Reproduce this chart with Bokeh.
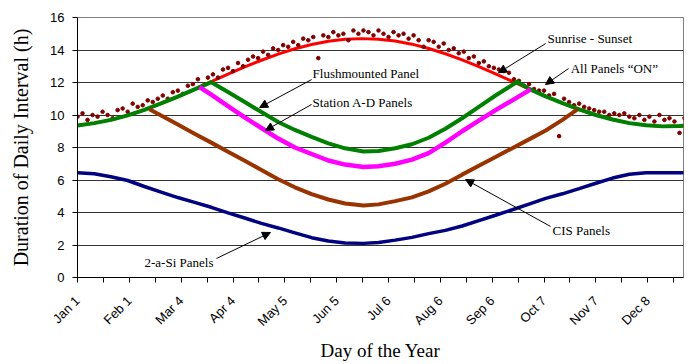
import math
from bokeh.plotting import figure
from bokeh.models import Range1d, FixedTicker, Label, Arrow, NormalHead
from bokeh.embed import file_html
from bokeh.resources import INLINE

# ---------------- data ----------------
x_label_days = [1, 32, 63, 94, 125, 156, 187, 218, 249, 280, 311, 342]
tick_labels = ["Jan 1", "Feb 1", "Mar 4", "Apr 4", "May 5", "Jun 5",
               "Jul 6", "Aug 6", "Sep 6", "Oct 7", "Nov 7", "Dec 8"]
y_ticks = [0, 2, 4, 6, 8, 10, 12, 14, 16]

sun_days = [1, 11, 21, 31, 41, 51, 61, 71, 81, 91, 101, 111, 121, 131, 141, 151, 161, 171,
            181, 191, 201, 211, 221, 231, 241, 251, 261, 271, 281, 291, 301, 311, 321, 331,
            341, 351, 361, 365]
sun_vals = [9.36, 9.50, 9.70, 9.98, 10.32, 10.71, 11.13, 11.58, 12.05, 12.51, 12.96, 13.37,
            13.75, 14.08, 14.34, 14.54, 14.66, 14.70, 14.66, 14.55, 14.36, 14.09, 13.77, 13.39,
            12.98, 12.53, 12.07, 11.61, 11.15, 10.73, 10.34, 10.00, 9.72, 9.50, 9.37, 9.30,
            9.32, 9.35]

flush_days = [1, 11, 21, 31, 41, 51, 61, 71, 81, 91, 101, 111, 121, 131, 141, 151, 161, 172,
              181, 191, 201, 211, 221, 231, 241, 251, 264, 271, 281, 291, 301, 311, 321, 331,
              341, 351, 361, 365]
flush_vals = [9.36, 9.50, 9.70, 9.98, 10.32, 10.71, 11.13, 11.58, 12.02, 11.42, 10.80, 10.18,
              9.57, 9.08, 8.65, 8.25, 7.95, 7.75, 7.78, 7.95, 8.20, 8.60, 9.15, 9.80, 10.50,
              11.20, 12.05, 11.61, 11.15, 10.73, 10.34, 10.00, 9.72, 9.50, 9.37, 9.30, 9.32, 9.35]

station_days = [74, 81, 91, 101, 111, 121, 131, 141, 151, 161, 172, 181, 191, 201, 211, 221,
                231, 241, 251, 261, 272]
station_vals = [11.72, 11.25, 10.55, 9.85, 9.20, 8.55, 8.00, 7.60, 7.20, 6.95, 6.80, 6.85,
                7.00, 7.25, 7.65, 8.30, 9.00, 9.65, 10.30, 10.90, 11.58]

cis_days = [44, 51, 61, 71, 81, 91, 101, 111, 121, 131, 141, 151, 161, 172, 181, 191, 201,
            211, 221, 231, 241, 251, 261, 271, 281, 291, 300]
cis_vals = [10.35, 9.97, 9.41, 8.85, 8.30, 7.74, 7.18, 6.62, 6.05, 5.55, 5.13, 4.80, 4.55,
            4.43, 4.50, 4.70, 4.93, 5.30, 5.77, 6.33, 6.88, 7.42, 7.96, 8.50, 9.05, 9.70, 10.35]

asi_days = [1, 11, 21, 31, 41, 51, 61, 71, 81, 91, 101, 111, 121, 131, 141, 151, 161, 172,
            181, 191, 201, 211, 221, 231, 241, 251, 261, 271, 281, 291, 301, 311, 321, 331,
            341, 351, 361, 365]
asi_vals = [6.44, 6.38, 6.20, 5.97, 5.60, 5.25, 4.92, 4.62, 4.32, 3.98, 3.66, 3.33, 3.05,
            2.75, 2.45, 2.25, 2.13, 2.10, 2.15, 2.30, 2.47, 2.70, 2.90, 3.17, 3.50, 3.83,
            4.17, 4.52, 4.87, 5.15, 5.47, 5.80, 6.12, 6.35, 6.44, 6.45, 6.45, 6.45]

on_days = [1, 4, 7, 10, 13, 16, 19, 22, 25, 28,
           31, 34, 37, 40, 43, 46, 49, 52, 55, 58,
           61, 64, 67, 70, 73, 76, 79, 82, 85, 88,
           91, 94, 97, 100, 103, 106, 109, 112, 115, 118,
           121, 124, 127, 130, 133, 136, 139, 142, 145, 148,
           151, 154, 157, 160, 163, 166, 169, 172, 175, 178,
           181, 184, 187, 190, 193, 196, 199, 202, 205, 208,
           211, 214, 217, 220, 223, 226, 229, 232, 235, 238,
           241, 244, 247, 250, 253, 256, 259, 262, 265, 268,
           271, 274, 277, 280, 283, 286, 289, 292, 295, 298,
           301, 304, 307, 310, 313, 316, 319, 322, 325, 328,
           331, 334, 337, 340, 343, 346, 349, 352, 355, 358,
           361, 364]
on_vals = [9.9, 10.1, 9.7, 10.0, 9.9, 10.2, 10.0, 9.8, 10.3, 10.4,
           10.2, 10.7, 10.5, 10.6, 10.9, 10.8, 11.0, 11.2, 11.0, 11.4,
           11.5, 11.3, 11.8, 11.9, 12.2, 11.8, 12.3, 12.5, 12.3, 12.8,
           12.9, 12.7, 13.2, 13.0, 13.4, 13.6, 13.5, 13.9, 13.7, 14.1,
           14.0, 14.3, 14.2, 14.5, 14.3, 14.7, 14.6, 14.8, 13.5, 14.9,
           14.8, 15.1, 14.9, 15.0, 14.6, 15.2, 15.0, 15.2, 15.1, 14.9,
           15.2, 15.0, 14.8, 15.1, 14.9, 15.0, 14.7, 14.9, 14.6, 14.2,
           14.6, 14.5, 14.2, 14.4, 14.0, 14.1, 13.8, 13.9, 13.5, 13.6,
           13.2, 13.3, 13.0, 12.9, 12.8, 12.7, 12.6, 12.2, 12.1, 11.8,
           11.9, 11.6, 11.5, 11.5, 11.2, 11.3, 8.7, 11.0, 10.8, 10.6,
           10.7, 10.5, 10.4, 10.3, 10.2, 10.2, 10.0, 10.1, 10.0, 10.1,
           9.9, 9.8, 10.0, 9.7, 9.9, 9.6, 10.0, 9.7, 9.8, 9.6,
           8.9, 9.8]

# ---------------- figure ----------------
p = figure(width=691, height=364, x_range=Range1d(1, 363.4), y_range=Range1d(0, 16),
           output_backend="svg", toolbar_location=None,
           min_border_left=77, min_border_right=8, min_border_top=17, min_border_bottom=87)
p.background_fill_color = "white"
p.border_fill_color = "white"
p.outline_line_color = "#808080"
p.xgrid.visible = False
p.ygrid.ticker = FixedTicker(ticks=y_ticks)
p.ygrid.grid_line_color = "#333333"
p.ygrid.grid_line_width = 1

yax = p.yaxis[0]
yax.ticker = FixedTicker(ticks=y_ticks)
yax.axis_line_color = "black"
yax.major_tick_in = 0
yax.major_tick_out = 5
yax.minor_tick_out = 0
yax.minor_tick_in = 0
yax.major_label_text_font = "Liberation Sans"
yax.major_label_text_font_size = "13px"
yax.major_label_text_color = "black"
yax.major_label_standoff = 8
yax.axis_label = "Duration of Daily Interval (h)"
yax.axis_label_text_font = "Liberation Serif"
yax.axis_label_text_font_size = "20px"
yax.axis_label_text_font_style = "normal"
yax.axis_label_text_color = "black"
yax.axis_label_standoff = 15

xax = p.xaxis[0]
xax.ticker = FixedTicker(ticks=x_label_days, minor_ticks=[d + 15.5 for d in x_label_days])
xax.major_label_overrides = {d: lab for d, lab in zip(x_label_days, tick_labels)}
xax.major_label_orientation = math.pi / 4
xax.axis_line_color = "black"
xax.major_tick_in = 0
xax.major_tick_out = 5
xax.minor_tick_in = 0
xax.minor_tick_out = 5
xax.minor_tick_line_color = "black"
xax.major_label_text_font = "Liberation Sans"
xax.major_label_text_font_size = "13px"
xax.major_label_text_color = "black"
xax.major_label_standoff = 16
xax.axis_label = "Day of the Year"
xax.axis_label_text_font = "Liberation Serif"
xax.axis_label_text_font_size = "19px"
xax.axis_label_text_font_style = "normal"
xax.axis_label_text_color = "black"
xax.axis_label_standoff = 3

# ---------------- series ----------------
p.line(sun_days, sun_vals, line_color="#FF0000", line_width=3)
p.scatter(on_days, on_vals, size=3.6, fill_color="#800000", line_color="#800000")
p.line(flush_days, flush_vals, line_color="#008000", line_width=4)
p.line(station_days, station_vals, line_color="#FF00FF", line_width=4.5)
p.line(cis_days, cis_vals, line_color="#993300", line_width=4)
p.line(asi_days, asi_vals, line_color="#000080", line_width=3.5)

# ---------------- annotations ----------------
notes = [
    ("Sunrise - Sunset", 282.1, 14.71, "left", (281.0, 14.40, 252.8, 12.60)),
    ("All Panels \u201cON\u201d", 295.9, 12.86, "left", (294.7, 12.86, 280.9, 11.88)),
    ("Flushmounted Panel", 141.6, 12.55, "left", (141.0, 12.18, 109.9, 10.46)),
    ("Station A-D Panels", 141.6, 10.77, "left", (141.0, 10.65, 113.4, 9.05)),
    ("CIS Panels", 285.1, 2.89, "left", (283.9, 3.14, 233.1, 6.03)),
    ("2-a-Si Panels", 82.3, 0.92, "right", (84.1, 1.17, 116.4, 2.77)),
]
for txt, tx, ty, al, (xs, ys, xe, ye) in notes:
    p.add_layout(Label(x=tx, y=ty, text=txt, text_font="Liberation Serif",
                       text_font_size="13px", text_color="black",
                       text_align=al, text_baseline="middle"))
    p.add_layout(Arrow(end=NormalHead(size=8, fill_color="black", line_color="black"),
                       x_start=xs, y_start=ys, x_end=xe, y_end=ye,
                       line_color="black", line_width=1))

open("out.html", "w").write(file_html(p, INLINE))
